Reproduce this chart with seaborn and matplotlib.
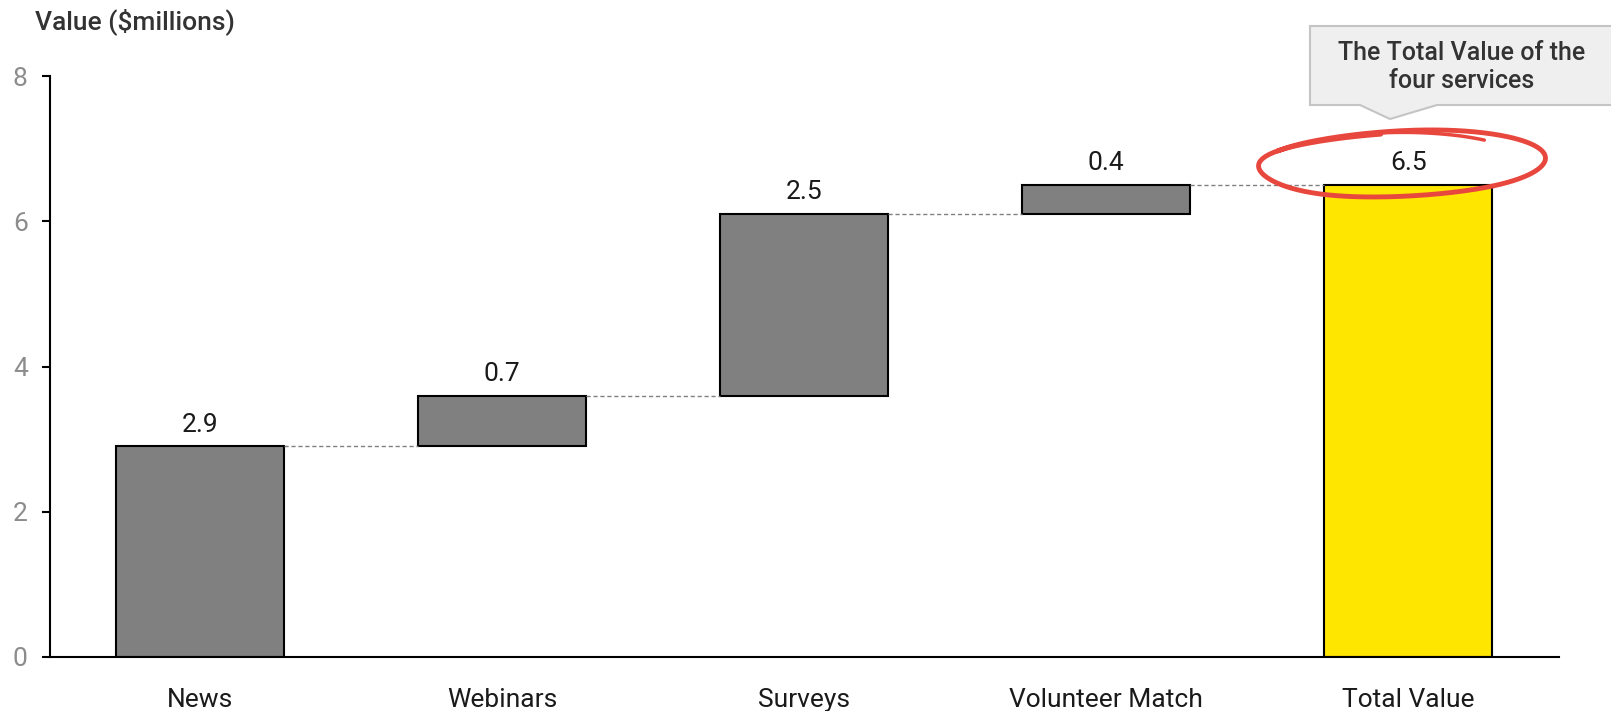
import numpy as np
import pandas as pd
import matplotlib
matplotlib.use("Agg")
import matplotlib.pyplot as plt
from matplotlib.patches import Polygon
from matplotlib.lines import Line2D
import seaborn as sns

# Waterfall data ($ millions)
categories = ["News", "Webinars", "Surveys", "Volunteer Match", "Total Value"]
increments = [2.9, 0.7, 2.5, 0.4]
total_value = 6.5
y_ticks = [0, 2, 4, 6, 8]

sns.set_theme(style="white")
plt.rcParams["font.family"] = ["Roboto", "DejaVu Sans"]

W, H = 1611, 711
fig = plt.figure(figsize=(W / 100, H / 100), dpi=100)
ax = fig.add_axes([50 / W, 1 - 657 / H, (1559 - 50) / W, (657 - 76) / H])

tops = np.cumsum(increments)
bases = np.concatenate([[0], tops[:-1]])
heights = list(increments) + [total_value]
bottoms = list(bases) + [0]

df = pd.DataFrame({"category": categories, "height": heights})

bar_w = 0.557
sns.barplot(data=df, x="category", y="height", order=categories,
            bottom=np.array(bottoms), width=bar_w, color="#808080",
            edgecolor="black", linewidth=1.5, saturation=1, ax=ax)
# Highlight the total bar
ax.patches[-1].set_facecolor("#FFE600")

# Connector lines between successive bar tops
for i, lvl in enumerate(tops):
    ax.plot([i + bar_w / 2, i + 1 - bar_w / 2], [lvl, lvl], color="#808080",
            lw=1.0, ls=(0, (3, 2)), zorder=1)

# Value labels above each bar
for i, (h, b) in enumerate(zip(heights, bottoms)):
    ax.annotate(f"{h:.1f}", (i, b + h), xytext=(0, 7), textcoords="offset points",
                ha="center", va="bottom", fontsize=19, color="#1a1a1a")

ax.set_xlim(-0.496, 4.499)
ax.set_ylim(0, 8)
ax.set_yticks(y_ticks)
ax.set_yticklabels([str(t) for t in y_ticks])
ax.set_xlabel("")
ax.set_ylabel("")

for s in ["top", "right"]:
    ax.spines[s].set_visible(False)
for s in ["left", "bottom"]:
    ax.spines[s].set_color("black")
    ax.spines[s].set_linewidth(1.5)

ax.tick_params(axis="y", left=True, length=6, width=1.5, color="black",
               labelsize=19, labelcolor="#8c8c8c", pad=10)
ax.tick_params(axis="x", bottom=False, labelsize=19, labelcolor="#1a1a1a", pad=16)

fig.text(35 / W, 1 - 22 / H, "Value ($millions)", ha="left", va="center",
         fontsize=19, fontweight="medium", color="#333333")


def px(x, y):
    return (x / W, 1 - y / H)


# Callout box with pointer
callout = Polygon([px(1310, 26), px(1625, 26), px(1625, 105), px(1437, 105),
                   px(1390, 119), px(1360, 105), px(1310, 105)],
                  closed=True, transform=fig.transFigure, facecolor="#EFEFEF",
                  edgecolor="#C4C4C4", lw=1.5, clip_on=False)
fig.patches.append(callout)
fig.text(*px(1462, 67), "The Total Value of the\nfour services", ha="center",
         va="center", fontsize=18, fontweight="medium", color="#333333",
         linespacing=1.25)

# Hand-drawn highlight ring around the total
cx, cy, rx, ry = 1403, 164, 145, 32
t = np.linspace(0.55 * np.pi, 2.55 * np.pi + 0.9, 400)
frac = (t - t[0]) / (t[-1] - t[0])
rxs = rx * (1.0 + 0.02 * np.sin(3 * t)) * (1.0 - 0.03 * frac)
rys = ry * (1.0 + 0.05 * np.sin(2 * t + 0.5)) * (1.0 + 0.08 * frac)
xs = cx + rxs * np.cos(t)
ys = cy - rys * np.sin(t) - 4 * np.cos(t)
fig.lines.append(Line2D(xs / W, 1 - ys / H, transform=fig.transFigure,
                        color="#E8473D", lw=3.5, solid_capstyle="round"))
t2 = np.linspace(0.28 * np.pi, 0.62 * np.pi, 60)
xs2 = cx + 0.88 * rx * np.cos(t2)
ys2 = cy - 1.05 * ry * np.sin(t2) + 2
fig.lines.append(Line2D(xs2 / W, 1 - ys2 / H, transform=fig.transFigure,
                        color="#E8473D", lw=2.5, solid_capstyle="round"))

fig.savefig("out.png", dpi=100)
